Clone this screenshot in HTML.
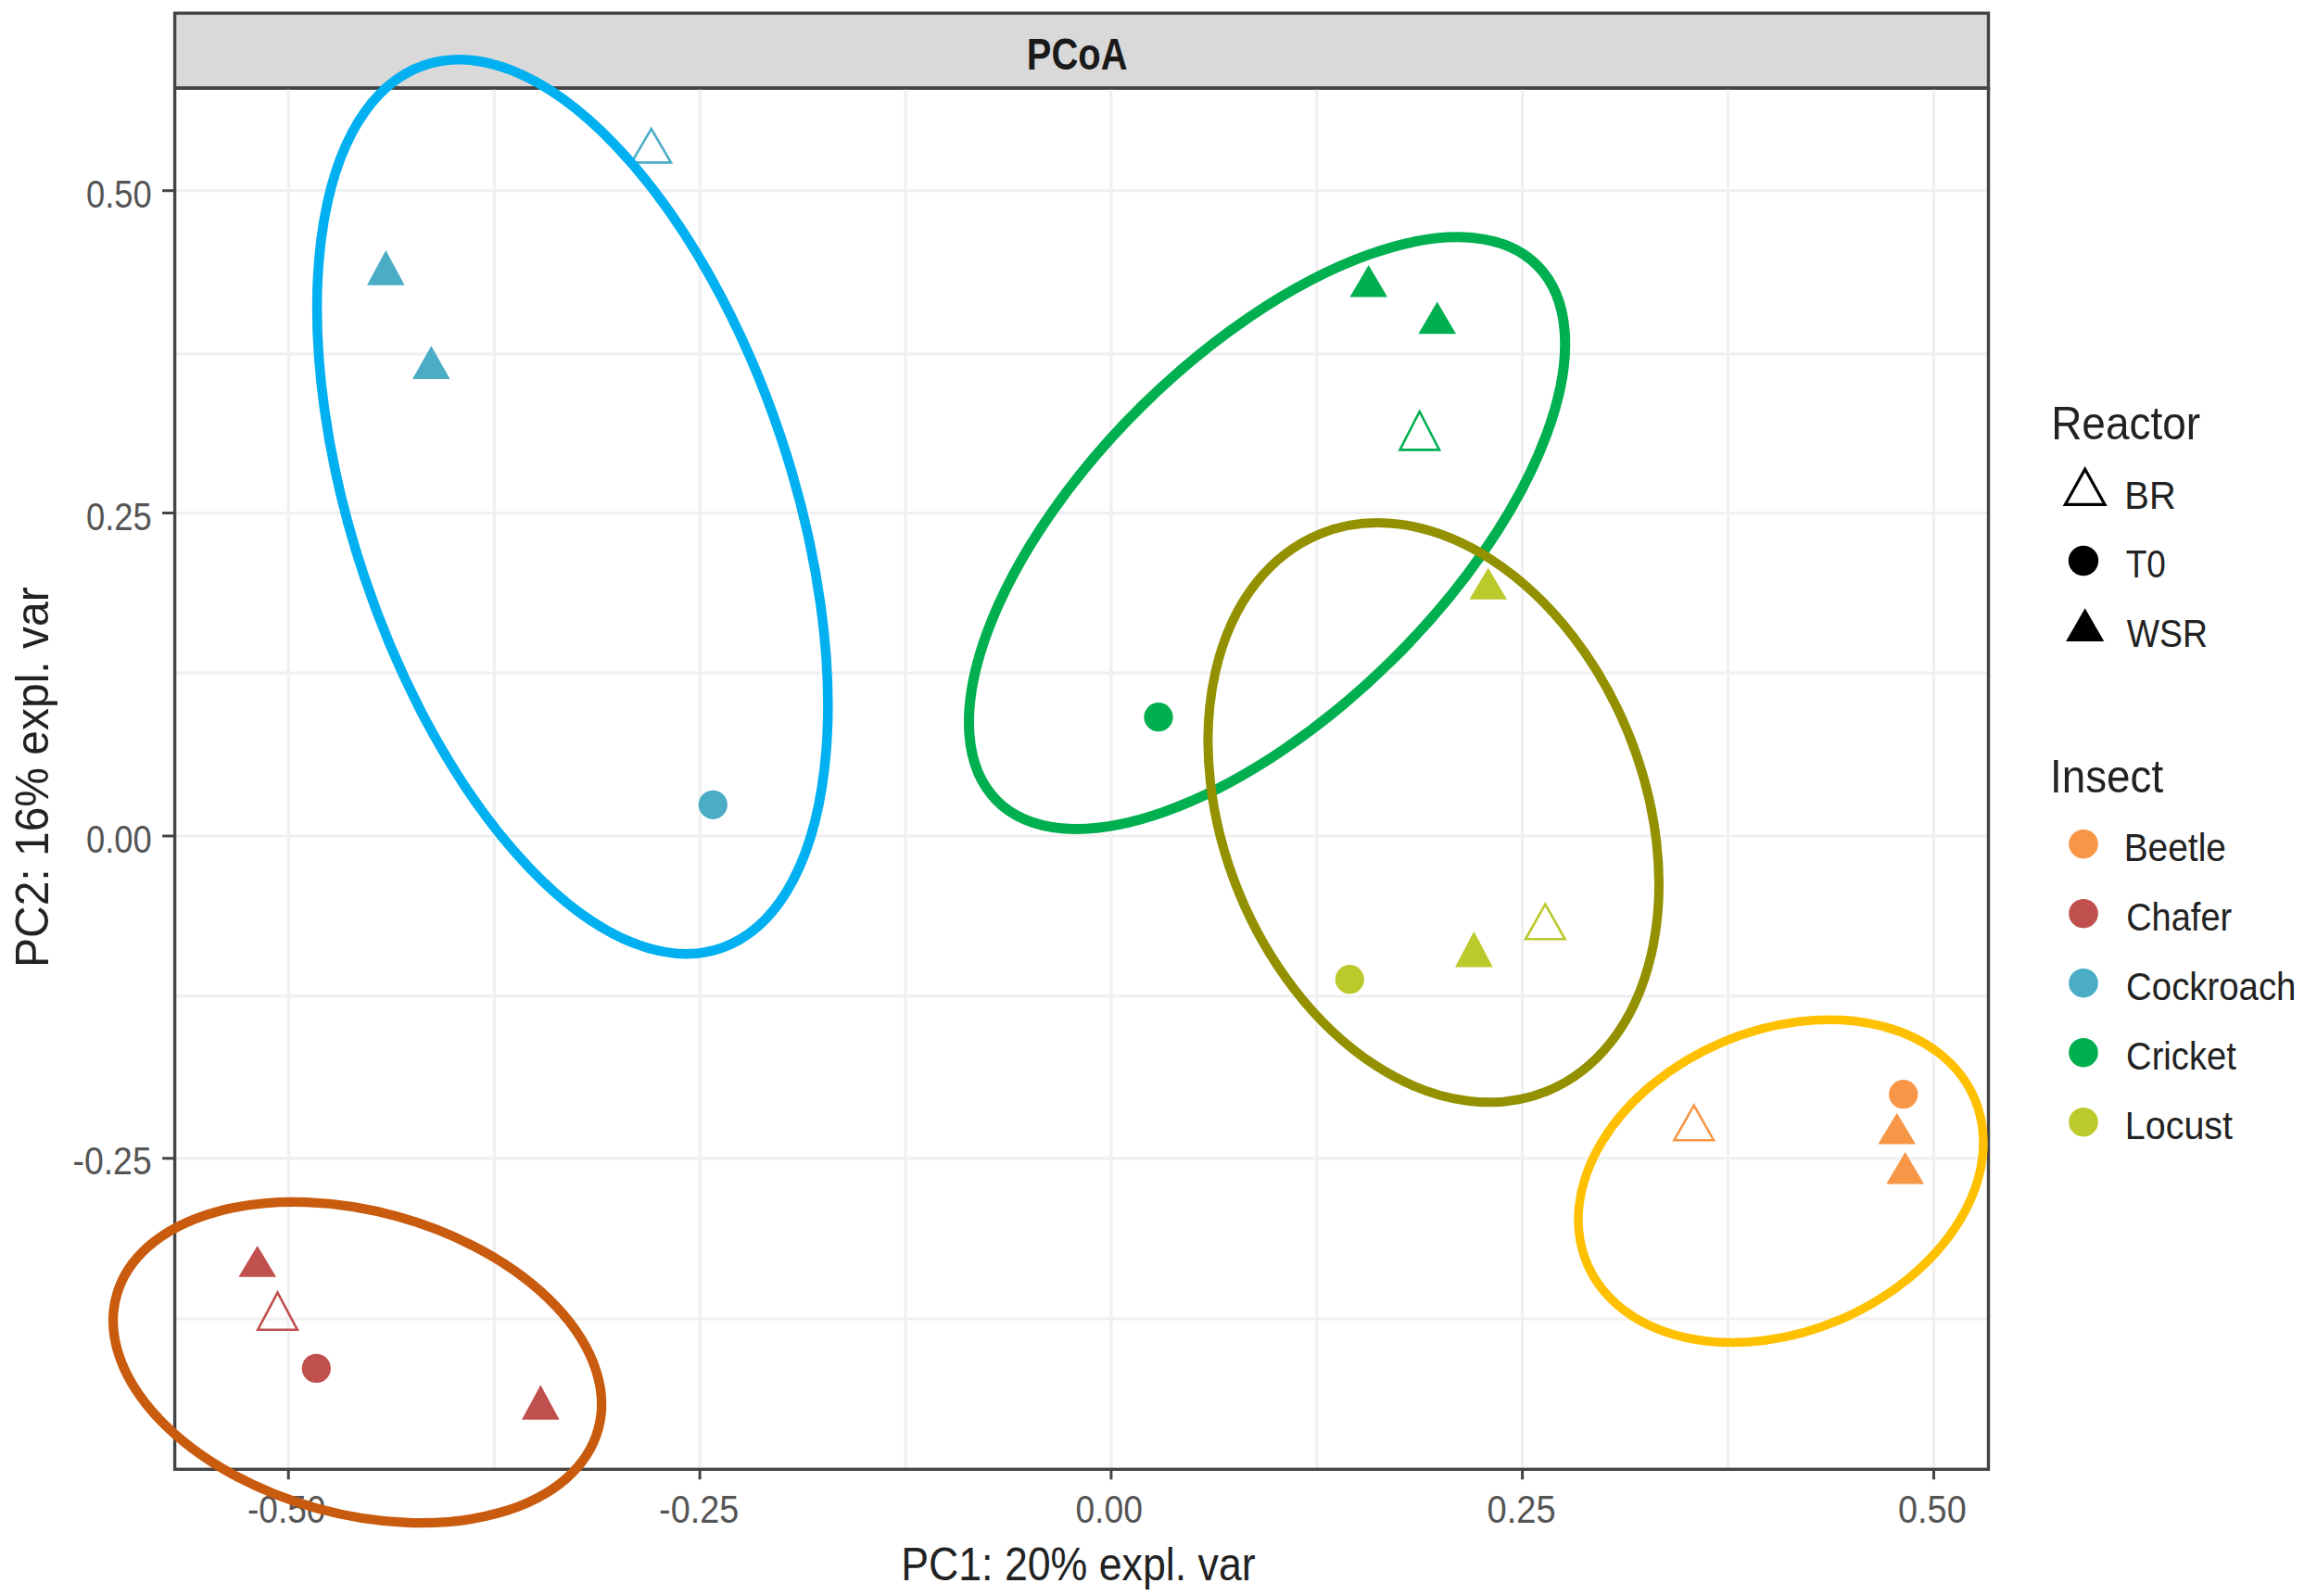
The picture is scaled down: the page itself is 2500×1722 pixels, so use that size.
<!DOCTYPE html>
<html lang="en"><head><meta charset="utf-8"><title>PCoA</title>
<style>html,body{margin:0;padding:0;background:#fff}svg{display:block}text{font-family:"Liberation Sans", sans-serif}</style></head><body>
<svg width="2500" height="1722" viewBox="0 0 2500 1722">
<rect x="0" y="0" width="2500" height="1722" fill="#ffffff"/>
<rect x="188.6" y="14.2" width="1956.9" height="80.8" fill="#d9d9d9" stroke="#444444" stroke-width="3.4"/>
<g stroke="#f0f0f0" stroke-width="3.2">
<line x1="533.3" y1="95.0" x2="533.3" y2="1585.3"/>
<line x1="977.1" y1="95.0" x2="977.1" y2="1585.3"/>
<line x1="1420.8" y1="95.0" x2="1420.8" y2="1585.3"/>
<line x1="1864.5" y1="95.0" x2="1864.5" y2="1585.3"/>
<line x1="311.2" y1="95.0" x2="311.2" y2="1585.3"/>
<line x1="755.1" y1="95.0" x2="755.1" y2="1585.3"/>
<line x1="1198.9" y1="95.0" x2="1198.9" y2="1585.3"/>
<line x1="1642.6" y1="95.0" x2="1642.6" y2="1585.3"/>
<line x1="2086.5" y1="95.0" x2="2086.5" y2="1585.3"/>
<line x1="188.6" y1="381.8" x2="2145.5" y2="381.8"/>
<line x1="188.6" y1="726.2" x2="2145.5" y2="726.2"/>
<line x1="188.6" y1="1074.8" x2="2145.5" y2="1074.8"/>
<line x1="188.6" y1="1423.0" x2="2145.5" y2="1423.0"/>
<line x1="188.6" y1="205.7" x2="2145.5" y2="205.7"/>
<line x1="188.6" y1="553.5" x2="2145.5" y2="553.5"/>
<line x1="188.6" y1="902.0" x2="2145.5" y2="902.0"/>
<line x1="188.6" y1="1249.8" x2="2145.5" y2="1249.8"/>
</g>
<polygon points="702.7,139.0 724.0,175.4 681.4,175.4" fill="none" stroke="#4BACC6" stroke-width="2.6" stroke-linejoin="miter"/>
<polygon points="416.3,270.0 436.6,307.7 396.0,307.7" fill="#4BACC6"/>
<polygon points="465.3,373.3 485.6,409.0 445.0,409.0" fill="#4BACC6"/>
<circle cx="769.3" cy="868.3" r="15.6" fill="#4BACC6"/>
<polygon points="1476.7,286.0 1497.0,320.5 1456.4,320.5" fill="#00B050"/>
<polygon points="1550.7,325.5 1571.0,360.2 1530.4,360.2" fill="#00B050"/>
<polygon points="1531.7,444.0 1553.0,485.4 1510.4,485.4" fill="none" stroke="#00B050" stroke-width="2.6" stroke-linejoin="miter"/>
<circle cx="1250.0" cy="773.7" r="15.6" fill="#00B050"/>
<polygon points="1605.7,612.7 1626.0,646.7 1585.4,646.7" fill="#BBC92B"/>
<circle cx="1456.3" cy="1056.7" r="15.6" fill="#BBC92B"/>
<polygon points="1590.4,1004.8 1610.7,1043.5 1570.1,1043.5" fill="#BBC92B"/>
<polygon points="1667.3,975.6 1688.6,1013.3 1646.0,1013.3" fill="none" stroke="#BBC92B" stroke-width="2.6" stroke-linejoin="miter"/>
<polygon points="1827.7,1192.6 1849.0,1230.2 1806.4,1230.2" fill="none" stroke="#F79646" stroke-width="2.6" stroke-linejoin="miter"/>
<circle cx="2053.7" cy="1180.7" r="15.6" fill="#F79646"/>
<polygon points="2046.7,1200.7 2067.0,1234.5 2026.4,1234.5" fill="#F79646"/>
<polygon points="2055.7,1243.0 2076.0,1277.4 2035.4,1277.4" fill="#F79646"/>
<polygon points="277.7,1344.0 298.0,1377.7 257.4,1377.7" fill="#C0504D"/>
<polygon points="299.5,1394.6 320.8,1434.7 278.2,1434.7" fill="none" stroke="#C0504D" stroke-width="2.6" stroke-linejoin="miter"/>
<circle cx="341.3" cy="1476.4" r="15.6" fill="#C0504D"/>
<polygon points="583.3,1494.3 603.6,1531.8 563.0,1531.8" fill="#C0504D"/>
<rect x="188.6" y="95.0" width="1956.9" height="1490.3" fill="none" stroke="#444444" stroke-width="3.4"/>
<g stroke="#444444" stroke-width="3">
<line x1="311.2" y1="1585.3" x2="311.2" y2="1596.3"/>
<line x1="755.1" y1="1585.3" x2="755.1" y2="1596.3"/>
<line x1="1198.9" y1="1585.3" x2="1198.9" y2="1596.3"/>
<line x1="1642.6" y1="1585.3" x2="1642.6" y2="1596.3"/>
<line x1="2086.5" y1="1585.3" x2="2086.5" y2="1596.3"/>
<line x1="175.1" y1="205.7" x2="188.6" y2="205.7"/>
<line x1="175.1" y1="553.5" x2="188.6" y2="553.5"/>
<line x1="175.1" y1="902.0" x2="188.6" y2="902.0"/>
<line x1="175.1" y1="1249.8" x2="188.6" y2="1249.8"/>
</g>
<text transform="translate(2213.15,474.00) scale(0.9106,1)" font-size="50.5" font-weight="normal" fill="#222222">Reactor</text>
<text transform="translate(2211.97,855.00) scale(0.9078,1)" font-size="50.5" font-weight="normal" fill="#222222">Insect</text>
<text transform="translate(972.15,1704.50) scale(0.8851,1)" font-size="50.5" font-weight="normal" fill="#222222">PC1: 20% expl. var</text>
<text transform="translate(1107.77,74.80) scale(0.8412,1)" font-size="47.5" font-weight="bold" fill="#1a1a1a">PCoA</text>
<text transform="translate(2292.33,548.90) scale(0.9496,1)" font-size="42.0" font-weight="normal" fill="#222222">BR</text>
<text transform="translate(2293.76,622.90) scale(0.8807,1)" font-size="42.0" font-weight="normal" fill="#222222">T0</text>
<text transform="translate(2294.74,697.90) scale(0.8899,1)" font-size="42.0" font-weight="normal" fill="#222222">WSR</text>
<text transform="translate(2291.65,928.75) scale(0.9266,1)" font-size="42.0" font-weight="normal" fill="#222222">Beetle</text>
<text transform="translate(2294.13,1003.75) scale(0.9050,1)" font-size="42.0" font-weight="normal" fill="#222222">Chafer</text>
<text transform="translate(2294.11,1078.75) scale(0.9133,1)" font-size="42.0" font-weight="normal" fill="#222222">Cockroach</text>
<text transform="translate(2294.12,1153.75) scale(0.9080,1)" font-size="42.0" font-weight="normal" fill="#222222">Cricket</text>
<text transform="translate(2292.87,1228.75) scale(0.9384,1)" font-size="42.0" font-weight="normal" fill="#222222">Locust</text>
<text transform="translate(266.92,1642.80) scale(0.8828,1)" font-size="42.0" font-weight="normal" fill="#555555">-0.50</text>
<text transform="translate(711.08,1642.80) scale(0.9003,1)" font-size="42.0" font-weight="normal" fill="#555555">-0.25</text>
<text transform="translate(1160.39,1642.80) scale(0.8877,1)" font-size="42.0" font-weight="normal" fill="#555555">0.00</text>
<text transform="translate(1604.57,1642.80) scale(0.9079,1)" font-size="42.0" font-weight="normal" fill="#555555">0.25</text>
<text transform="translate(2048.08,1642.80) scale(0.9005,1)" font-size="42.0" font-weight="normal" fill="#555555">0.50</text>
<text transform="translate(92.94,224.10) scale(0.8672,1)" font-size="42.0" font-weight="normal" fill="#555555">0.50</text>
<text transform="translate(92.94,571.50) scale(0.8672,1)" font-size="42.0" font-weight="normal" fill="#555555">0.25</text>
<text transform="translate(92.94,920.00) scale(0.8672,1)" font-size="42.0" font-weight="normal" fill="#555555">0.00</text>
<text transform="translate(78.49,1267.40) scale(0.8897,1)" font-size="42.0" font-weight="normal" fill="#555555">-0.25</text>
<text transform="translate(52.00,1044.00) rotate(-90) scale(0.9500,1)" font-size="50.5" font-weight="normal" fill="#222222">PC2: 16% expl. var</text>
<polygon points="2249.7,506.2 2271.0,544.3 2228.4,544.3" fill="none" stroke="#000000" stroke-width="3.2" stroke-linejoin="miter"/>
<circle cx="2248.0" cy="605.0" r="16.2" fill="#000000"/>
<polygon points="2249.7,656.3 2270.3,692.0 2229.1,692.0" fill="#000000"/>
<circle cx="2248.0" cy="910.7" r="15.8" fill="#F79646"/>
<circle cx="2248.0" cy="985.7" r="15.8" fill="#C0504D"/>
<circle cx="2248.0" cy="1060.7" r="15.8" fill="#4BACC6"/>
<circle cx="2248.0" cy="1135.7" r="15.8" fill="#00B050"/>
<circle cx="2248.0" cy="1210.7" r="15.8" fill="#BBC92B"/>
<ellipse cx="0" cy="0" rx="502.5" ry="237.0" transform="translate(617.7,546.7) rotate(71.49)" fill="none" stroke="#00B0F0" stroke-width="10.5"/>
<ellipse cx="0" cy="0" rx="410.3" ry="192.4" transform="translate(1367.1,575.1) rotate(135.33)" fill="none" stroke="#00B050" stroke-width="11.0"/>
<ellipse cx="0" cy="0" rx="324.6" ry="227.0" transform="translate(1546.7,876.7) rotate(67.85)" fill="none" stroke="#939100" stroke-width="10.0"/>
<ellipse cx="0" cy="0" rx="227.2" ry="162.6" transform="translate(1921.5,1274.4) rotate(-23.13)" fill="none" stroke="#FFC000" stroke-width="9.5"/>
<ellipse cx="0" cy="0" rx="269.7" ry="163.3" transform="translate(385.6,1470.0) rotate(-164.47)" fill="none" stroke="#C95B0E" stroke-width="10.3"/>
</svg></body></html>
